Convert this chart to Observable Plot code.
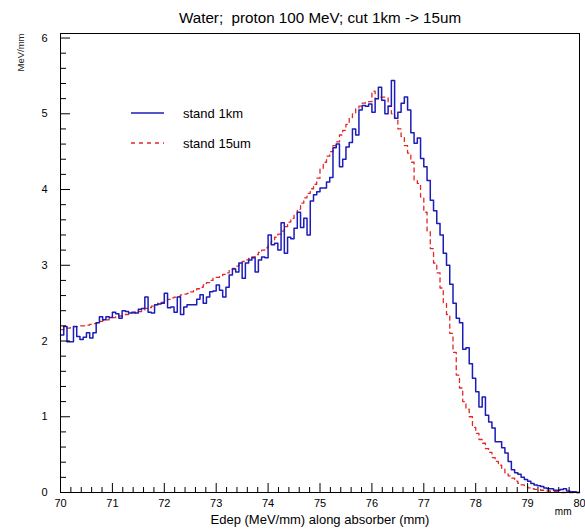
<!DOCTYPE html>
<html><head><meta charset="utf-8">
<script src="https://cdn.jsdelivr.net/npm/d3@7"></script>
<script src="https://cdn.jsdelivr.net/npm/@observablehq/plot@0.6"></script>
<style>
body{margin:0;background:#fff;overflow:hidden}
svg text{white-space:pre}
</style>
</head><body><div id="chart"></div>
<script>
const title = "Water;  proton 100 MeV; cut 1km -> 15um";
const xLabel = "Edep (MeV/mm) along absorber (mm)";
const yLabel = "MeV/mm";
const xUnit = "mm";
const seriesNames = ["stand 1km", "stand 15um"];
const xMin = 70, xMax = 80, nBins = 160;
const xTicks = [70, 71, 72, 73, 74, 75, 76, 77, 78, 79, 80];
const yTicks = [0, 1, 2, 3, 4, 5, 6];

const stand1km = [
  2.08, 2.19, 1.99, 1.99, 2.19, 2.06, 2.02, 2.05, 2.11, 2.04,
  2.11, 2.24, 2.32, 2.28, 2.32, 2.31, 2.38, 2.36, 2.30, 2.40,
  2.39, 2.37, 2.38, 2.37, 2.42, 2.43, 2.58, 2.38, 2.37, 2.48,
  2.49, 2.50, 2.63, 2.44, 2.45, 2.38, 2.58, 2.35, 2.45, 2.48,
  2.48, 2.48, 2.55, 2.61, 2.50, 2.58, 2.65, 2.66, 2.74, 2.67,
  2.58, 2.71, 2.87, 2.95, 2.91, 3.03, 2.83, 3.03, 3.07, 3.10,
  2.91, 3.07, 3.11, 3.10, 3.40, 3.27, 3.29, 3.20, 3.56, 3.16,
  3.37, 3.35, 3.49, 3.70, 3.50, 3.62, 3.40, 3.85, 3.93, 3.97,
  4.02, 4.02, 4.10, 4.16, 4.55, 4.60, 4.30, 4.40, 4.56, 4.62,
  4.80, 4.72, 5.05, 5.11, 5.10, 5.13, 5.02, 5.20, 5.35, 5.18,
  5.00, 5.10, 5.44, 4.94, 5.02, 5.14, 5.22, 5.05, 4.75, 4.61,
  4.68, 4.41, 4.30, 4.12, 3.86, 3.72, 3.55, 3.40, 3.16, 3.00,
  2.75, 2.50, 2.30, 2.24, 1.89, 1.91, 1.70, 1.51, 1.33, 1.13,
  1.26, 1.02, 0.93, 0.85, 0.67, 0.67, 0.59, 0.52, 0.41, 0.30,
  0.26, 0.24, 0.20, 0.17, 0.15, 0.12, 0.10, 0.09, 0.08, 0.06,
  0.05, 0.05, 0.03, 0.03, 0.04, 0.05, 0.02, 0.01, 0.01, 0.00
];

const stand15um = [
  2.15, 2.16, 2.17, 2.18, 2.19, 2.19, 2.20, 2.20, 2.21, 2.22,
  2.23, 2.24, 2.26, 2.27, 2.28, 2.30, 2.31, 2.32, 2.33, 2.34,
  2.35, 2.36, 2.37, 2.38, 2.39, 2.41, 2.43, 2.44, 2.46, 2.48,
  2.50, 2.51, 2.53, 2.55, 2.57, 2.58, 2.59, 2.61, 2.62, 2.63,
  2.65, 2.67, 2.69, 2.71, 2.74, 2.77, 2.80, 2.83, 2.84, 2.86,
  2.88, 2.90, 2.93, 2.96, 2.99, 3.03, 3.05, 3.07, 3.09, 3.11,
  3.14, 3.17, 3.20, 3.23, 3.28, 3.32, 3.37, 3.41, 3.45, 3.51,
  3.57, 3.62, 3.66, 3.74, 3.82, 3.89, 3.95, 4.01, 4.07, 4.15,
  4.28, 4.36, 4.44, 4.50, 4.58, 4.63, 4.72, 4.78, 4.86, 4.94,
  5.00, 5.07, 5.10, 5.14, 5.15, 5.16, 5.30, 5.20, 5.22, 5.22,
  5.22, 5.10, 5.00, 4.94, 4.80, 4.70, 4.58, 4.48, 4.36, 4.12,
  4.08, 3.90, 3.70, 3.45, 3.22, 3.03, 2.90, 2.70, 2.50, 2.35,
  2.10, 1.85, 1.55, 1.38, 1.20, 1.10, 1.00, 0.86, 0.78, 0.70,
  0.65, 0.58, 0.53, 0.46, 0.41, 0.36, 0.31, 0.26, 0.22, 0.19,
  0.15, 0.12, 0.10, 0.08, 0.06, 0.05, 0.04, 0.04, 0.03, 0.02,
  0.02, 0.01, 0.01, 0.01, 0.00, 0.00, 0.00, 0.00, 0.00, 0.00
];

// build step outlines (one row per bin low edge, plus the final high edge)
const binW = (xMax - xMin) / nBins;
function outline(values, name) {
  const rows = values.map((v, i) => ({x: xMin + i * binW, y: v, series: name}));
  rows.push({x: xMax, y: values[values.length - 1], series: name});
  return rows;
}
const blueRows = outline(stand1km, seriesNames[0]);
const redRows = outline(stand15um, seriesNames[1]);

const W = 585, H = 530;
const mL = 60, mR = 6, mT = 33, mB = 38;
const plotW = W - mL - mR, plotH = H - mT - mB;
const xMinor = d3.range(0, 51).map(i => xMin + i * 0.2).filter(v => !xTicks.some(t => Math.abs(t - v) < 1e-6));
const yMinor = d3.range(0, 31).map(i => i * 0.2).filter(v => !yTicks.some(t => Math.abs(t - v) < 1e-6));

const blue = "#1c1cb8", red = "#e02828";
const font = "'Liberation Sans', Arial, Helvetica, sans-serif";

const chart = Plot.plot({
  width: W, height: H,
  marginLeft: mL, marginRight: mR, marginTop: mT, marginBottom: mB,
  style: {fontFamily: font, background: "#fff", overflow: "hidden"},
  x: {domain: [xMin, xMax], axis: null},
  y: {domain: [0, 6.06], axis: null},
  marks: [
    Plot.line(redRows, {x: "x", y: "y", curve: "step-after", stroke: red, strokeWidth: 1.3, strokeDasharray: "4,4"}),
    Plot.line(blueRows, {x: "x", y: "y", curve: "step-after", stroke: blue, strokeWidth: 1.5}),
    Plot.frame({stroke: "#000", strokeWidth: 1}),
    // x ticks (inward)
    Plot.ruleX(xTicks, {x: d => d, insetTop: plotH - 9, stroke: "#000"}),
    Plot.ruleX(xMinor, {x: d => d, insetTop: plotH - 5, stroke: "#000"}),
    // y ticks (inward)
    Plot.ruleY(yTicks, {y: d => d, insetRight: plotW - 10, stroke: "#000"}),
    Plot.ruleY(yMinor, {y: d => d, insetRight: plotW - 6, stroke: "#000"}),
    // tick labels
    Plot.text(xTicks, {x: d => d, frameAnchor: "bottom", dy: 14, text: d => String(d), fontSize: 11, fill: "#000"}),
    Plot.text(yTicks, {y: d => d, frameAnchor: "left", dx: -13, textAnchor: "end", text: d => String(d), fontSize: 11, fill: "#000"}),
    // titles
    Plot.text([title], {frameAnchor: "top", dy: -21, text: d => d, fontSize: 15.2, fill: "#000"}),
    Plot.text([xLabel], {frameAnchor: "bottom", dy: 31, text: d => d, fontSize: 13, fill: "#000"}),
    Plot.text([xUnit], {frameAnchor: "bottom-right", dx: -8, dy: 22, text: d => d, fontSize: 10, fill: "#000"}),
    Plot.text([yLabel], {frameAnchor: "top-left", dx: -43, dy: 0, rotate: -90, textAnchor: "end", text: d => d, fontSize: 9.5, fill: "#222"})
  ]
});

// legend inside the frame (layout only)
const svg = d3.select(chart);
const leg = svg.append("g").attr("font-family", font).attr("font-size", 13).attr("text-anchor", "start");
const legItems = [
  {name: seriesNames[0], color: blue, dash: null, w: 1.5},
  {name: seriesNames[1], color: red, dash: "4,4", w: 1.3}
];
legItems.forEach((it, i) => {
  const yy = 113 + i * 30;
  leg.append("line").attr("x1", 131).attr("x2", 164).attr("y1", yy).attr("y2", yy)
    .attr("stroke", it.color).attr("stroke-width", it.w).attr("stroke-dasharray", it.dash);
  leg.append("text").attr("x", 183).attr("y", yy).attr("dy", "0.35em").attr("text-anchor", "start")
    .attr("fill", "#000").text(it.name);
});

document.getElementById("chart").appendChild(chart);
</script>
</body></html>
